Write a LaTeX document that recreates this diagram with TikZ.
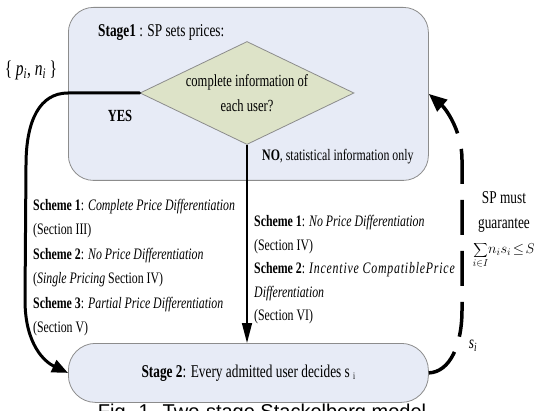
\documentclass[tikz,border=0pt]{standalone}
\usepackage{fontspec}
\setmainfont[FakeStretch=0.74]{Liberation Serif}
\newfontfamily\capfont{Liberation Sans}
\usetikzlibrary{shapes.geometric,arrows.meta}
\definecolor{boxfill}{HTML}{E7EBF6}
\definecolor{boxline}{HTML}{8C8C8C}
\definecolor{diafill}{HTML}{DDE3C8}
\tikzset{
  stagebox/.style={draw=boxline, line width=0.8pt, fill=boxfill, anchor=north west},
  lbl/.style={inner sep=0pt, font=\fontsize{17}{20}\selectfont},
  schemetxt/.style={inner sep=0pt, align=left, anchor=north west},
  thickline/.style={line width=3pt, line cap=round},
  dashline/.style={line width=3.5pt, dash pattern=on 35pt off 16pt},
}
\begin{document}
\begin{tikzpicture}[x=1pt,y=-1pt]
\useasboundingbox (0,0) rectangle (534,411);
\clip (0,0) rectangle (534,411);
% stage boxes
\node[stagebox, rounded corners=25pt, minimum width=360pt, minimum height=173pt] (stage1) at (68,7) {};
\node[stagebox, rounded corners=27pt, minimum width=360pt, minimum height=59pt,
      font=\fontsize{18}{20}\selectfont] (stage2) at (68,343)
      {\textbf{Stage 2}: Every admitted user decides s {\fontsize{10}{10}\selectfont\raisebox{-2pt}{i}}};
\node[lbl, anchor=west, font=\fontsize{18}{20}\selectfont] (s1lbl) at (98,33) {\textbf{Stage1} : SP sets prices:};
% diamond
\node[diamond, draw=boxline, line width=0.8pt, fill=diafill, aspect=2.08, inner sep=0pt,
      minimum width=214pt, minimum height=103pt, align=center,
      font=\fontsize{17}{25}\selectfont] (dia) at (247,93)
      {complete information of\\each user?};
% labels
\node[lbl, font=\fontsize{21}{22}\selectfont] (pn) at (31,70) {\{\,\textit{p}\textsubscript{\textit{i}},\ \textit{n}\textsubscript{\textit{i}}\,\}};
\node[lbl] (yes) at (120,116) {\textbf{YES}};
\node[lbl, anchor=west, font=\fontsize{16}{20}\selectfont] (no) at (262,157) {\textbf{NO}, statistical information only};
\node[schemetxt, font=\fontsize{16}{24.4}\selectfont] (left) at (33,199)
  {\textbf{Scheme 1}: \textit{Complete Price Differentiation}\\
   (Section III)\\
   \textbf{Scheme 2}: \textit{No Price Differentiation}\\
   (\textit{Single Pricing} Section IV)\\
   \textbf{Scheme 3}: \textit{Partial Price Differentiation}\\
   (Section V)};
\node[schemetxt, font=\fontsize{16}{23.6}\selectfont] (right) at (254,215)
  {\textbf{Scheme 1}: \textit{No Price Differentiation}\\
   (Section IV)\\
   \textbf{Scheme 2}: {\addfontfeatures{LetterSpace=5}\textit{Incentive CompatiblePrice}}\\
   \textit{Differentiation}\\
   (Section VI)};
\node[inner sep=0pt, align=center, font=\fontsize{18}{25}\selectfont] (guar) at (504,212) {SP must\\guarantee};
\node[inner sep=0pt, font=\fontsize{14}{16}\selectfont] (sum) at (504,255) {$\displaystyle\sum_{i\in I}\!n_i s_i\!\le\! S$};
\node[lbl, font=\fontsize{18}{20}\selectfont] (si) at (473,346) {\textit{s}\textsubscript{\textit{i}}};
\node[inner sep=0pt, anchor=north, font=\capfont\fontsize{20}{24}\selectfont] (cap) at (262,404) {Fig. 1. Two-stage Stackelberg model};
% connectors
\draw[thickline, -{Triangle[length=16pt,width=13pt]}] (dia.west) -- (68,93)
   .. controls (40,93) and (26,120) .. (26,165) -- (25,300)
   .. controls (25,345) and (45,362) .. (stage2.west);
\draw[line width=1.5pt, -{Triangle[length=20pt,width=10pt]}] (dia.south) -- (dia.south |- stage2.north);
\draw[dashline, -{Triangle[length=18pt,width=15pt]}] (stage2.east)
   .. controls (450,372) and (462,345) .. (462,310) -- (462,160)
   .. controls (462,130) and (445,108) .. (stage1.east);
\end{tikzpicture}
\end{document}
